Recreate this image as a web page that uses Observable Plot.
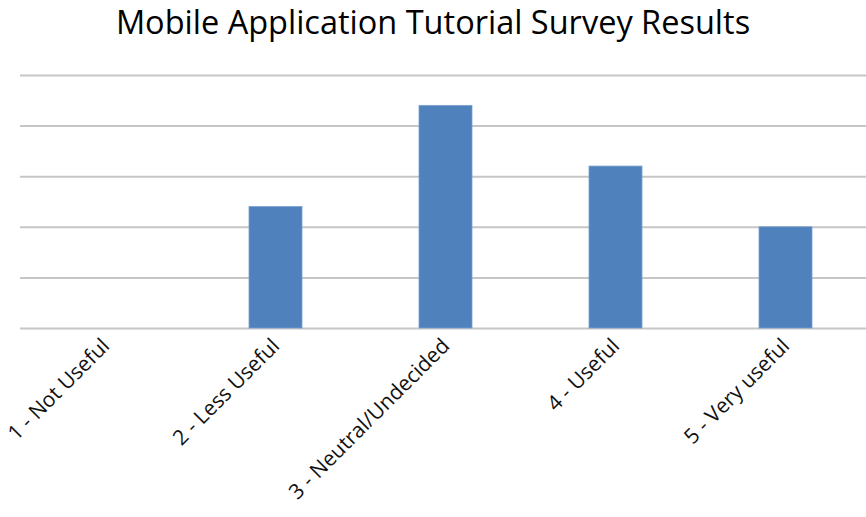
<!DOCTYPE html>
<html>
<head>
<meta charset="utf-8">
<script src="https://cdn.jsdelivr.net/npm/d3@7"></script>
<script src="https://cdn.jsdelivr.net/npm/@observablehq/plot@0.6"></script>
<style>
  body { margin: 0; background: #fff; }
  #title { font-family: "Open Sans", sans-serif; font-size: 32.5px; color: #000; text-align: center; width: 866px; height: 45px; line-height: 45px; margin-top: -1px; margin-bottom: 1px; }
  svg { display: block; }
</style>
</head>
<body>
<div id="title">Mobile Application Tutorial Survey Results</div>
<div id="chart"></div>
<script>
const categories = ["1 - Not Useful", "2 - Less Useful", "3 - Neutral/Undecided", "4 - Useful", "5 - Very useful"];
const values = [0, 12, 22, 16, 10];
const gridTicks = [0, 5, 10, 15, 20, 25];

const data = categories.map((c, i) => ({category: c, value: values[i]}));

const chart = Plot.plot({
  width: 866,
  height: 472,
  marginTop: 30,
  marginBottom: 189,
  marginLeft: 20,
  marginRight: 0,
  style: {fontFamily: "Open Sans, sans-serif", fontSize: "21px", color: "#111", background: "#fff"},
  x: {domain: categories, range: [20.5, 870.5], paddingInner: 0.69, paddingOuter: 0.345, label: null},
  y: {domain: [0, 25], axis: null},
  marks: [
    Plot.ruleY(gridTicks, {stroke: "#c6c6c6", strokeWidth: 2}),
    Plot.barY(data, {x: "category", y: "value", fill: "#4f81bd", stroke: "#7a9fd0", strokeWidth: 0.8}),
    Plot.axisX({tickSize: 0, tickPadding: 14, tickRotate: -45, fontSize: 21, label: null, fill: "#111"})
  ]
});
document.getElementById("chart").appendChild(chart);
</script>
</body>
</html>
